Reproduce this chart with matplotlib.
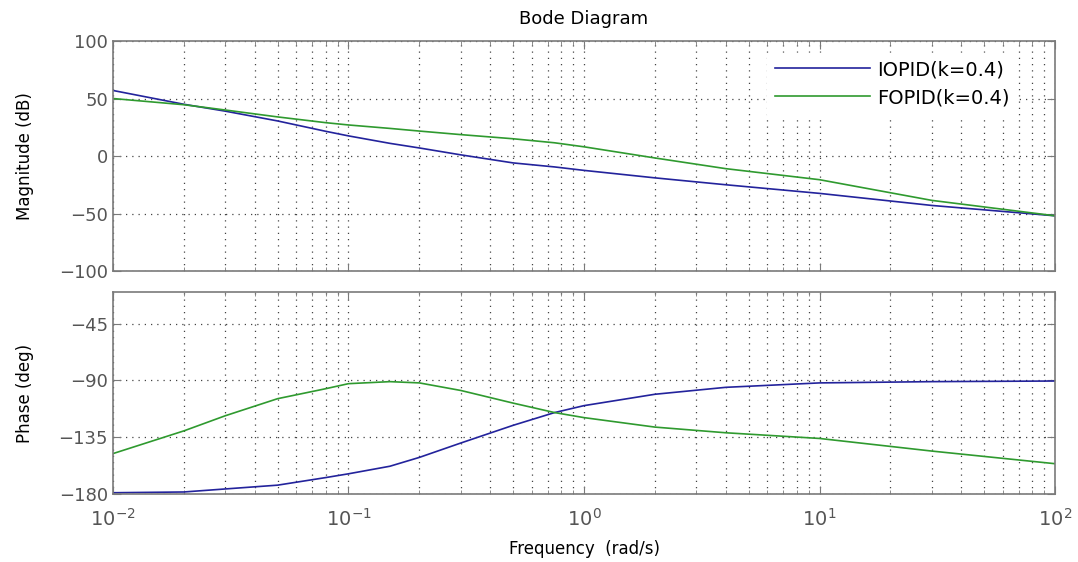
import matplotlib
matplotlib.use("Agg")
import matplotlib.pyplot as plt
from matplotlib.ticker import LogLocator, NullFormatter

# frequency points (rad/s)
freq = [0.01, 0.02, 0.03, 0.05, 0.08, 0.1, 0.15, 0.2, 0.3, 0.5, 0.75, 1, 2, 4, 10, 30, 100]

# magnitude (dB)
mag_iopid = [57, 45, 39, 30.5, 21.5, 17.5, 11, 7, 1, -6, -9.5, -12.5, -19, -25, -32.5, -43, -52]
mag_fopid = [50, 44.6, 40, 34, 29, 27, 24, 21.7, 18.6, 15, 11.5, 8, -1.7, -11, -20.6, -38.6, -52]

# phase (deg)
ph_iopid = [-179, -178.4, -176, -173, -167, -164, -158, -151, -139.6, -125.6, -115.5, -110, -101, -95.5, -92, -91, -90.5]
ph_fopid = [-148, -130, -118, -104.5, -96.6, -92.6, -91, -92, -98, -108, -115.5, -119.5, -127, -131.5, -136, -146, -156]

labels = ["IOPID(k=0.4)", "FOPID(k=0.4)"]
c_blue = "#23239c"
c_green = "#2f9a2f"
grey = "#7a7a7a"

plt.rcParams["font.family"] = ["DejaVu Sans"]

fig = plt.figure(figsize=(10.78, 5.62), dpi=100)
ax1 = fig.add_axes([0.1048, 0.5178, 0.8739, 0.4092])
ax2 = fig.add_axes([0.1048, 0.1210, 0.8739, 0.3594])


def style(ax):
    ax.set_xscale("log")
    ax.set_xlim(1e-2, 1e2)
    ax.xaxis.set_major_locator(LogLocator(base=10, numticks=10))
    ax.xaxis.set_minor_locator(LogLocator(base=10, subs=range(2, 10), numticks=10))
    ax.xaxis.set_minor_formatter(NullFormatter())
    ax.grid(True, which="major", axis="both", ls=(0, (1, 4)), color="#444444", lw=0.9)
    ax.grid(True, which="minor", axis="x", ls=(0, (1, 4)), color="#444444", lw=0.9)
    ax.tick_params(which="both", direction="in", top=True, right=True,
                   color=grey, labelcolor="#555555", labelsize=13)
    ax.tick_params(which="major", length=6)
    ax.tick_params(which="minor", length=3)
    for s in ax.spines.values():
        s.set_color(grey)
        s.set_linewidth(1.2)


ax1.plot(freq, mag_iopid, color=c_blue, lw=1.2, label=labels[0])
ax1.plot(freq, mag_fopid, color=c_green, lw=1.2, label=labels[1])
style(ax1)
ax1.set_ylim(-100, 100)
ax1.set_yticks([-100, -50, 0, 50, 100])
ax1.tick_params(labelbottom=False)
ax1.set_ylabel("Magnitude (dB)", fontsize=12, labelpad=18)
ax1.set_title("Bode Diagram", fontsize=13, pad=12)
leg = ax1.legend(loc="upper left", bbox_to_anchor=(0.694, 0.95), fontsize=14,
                 frameon=True, fancybox=False, handlelength=4.9,
                 borderaxespad=0.0, handletextpad=0.35, labelspacing=0.45)
leg.get_frame().set_edgecolor("white")
leg.get_frame().set_alpha(1)

ax2.plot(freq, ph_iopid, color=c_blue, lw=1.2)
ax2.plot(freq, ph_fopid, color=c_green, lw=1.2)
style(ax2)
ax2.set_ylim(-180, -20)
ax2.set_yticks([-180, -135, -90, -45])
ax2.set_ylabel("Phase (deg)", fontsize=12, labelpad=18)
ax2.set_xlabel("Frequency  (rad/s)", fontsize=12, labelpad=7)
ax2.tick_params(axis="x", pad=10, labelsize=14)

fig.savefig("out.png", dpi=100)
